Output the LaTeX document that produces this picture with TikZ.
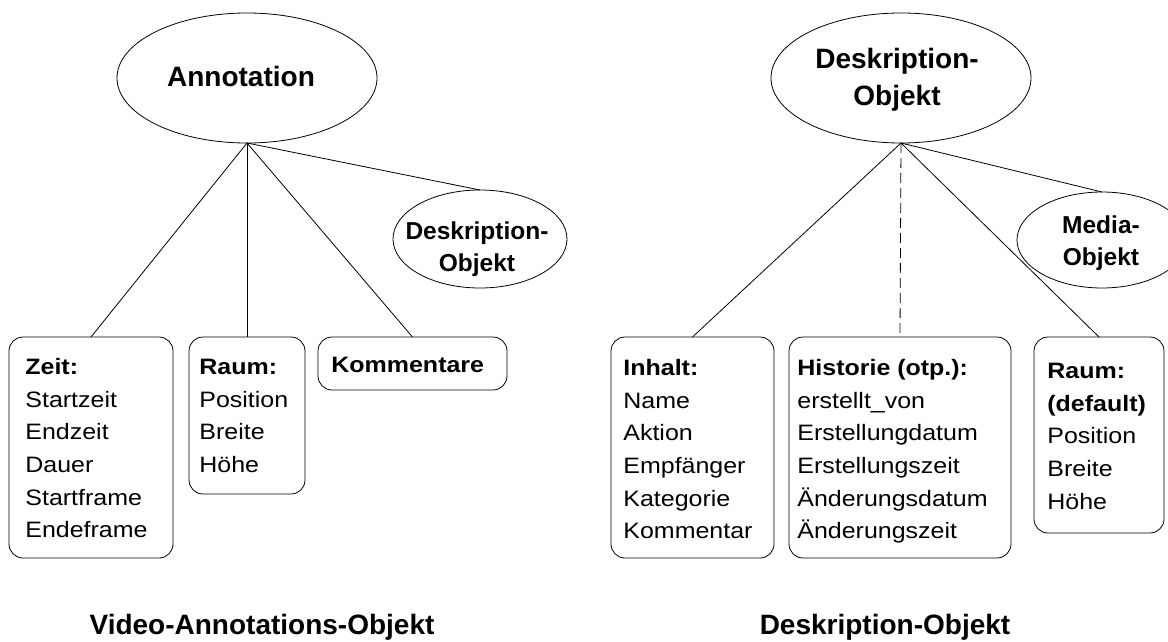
\documentclass[tikz,border=0pt]{standalone}
\usepackage{fontspec}
\setmainfont{Liberation Sans}
\newfontfamily\boxfont[FakeStretch=1.12]{Liberation Sans}
\usetikzlibrary{shapes.geometric}
\newcommand\fstrut[1]{\rule{0pt}{#1}}
\begin{document}
\begin{tikzpicture}[x=1pt,y=-1pt,line width=0.8pt,
  attrbox/.style={draw, rounded corners=14pt, anchor=north west, inner sep=0pt, outer sep=0pt},
  ovalnode/.style={draw, ellipse, inner sep=0pt, outer sep=0pt},
  boxtext/.style={anchor=north west, inner sep=0pt, align=left,
    font=\boxfont\fontsize{22.3}{32.7}\selectfont},
  bigtext/.style={inner sep=0pt, align=center, font=\bfseries\fontsize{28}{37}\selectfont},
  smalltext/.style={inner sep=0pt, align=center, font=\bfseries\fontsize{24.5}{32}\selectfont},
  conn/.style={line width=0.8pt},
  optconn/.style={line width=0.8pt, dash pattern=on 10pt off 5pt}
]
\useasboundingbox (0,0) rectangle (1168,642);

% ---------- left: Video-Annotations-Objekt ----------
\node[ovalnode, minimum width=260pt, minimum height=130pt] (ann) at (247,78) {};
\node[bigtext, anchor=base] (annt) at (241,87) {Annotation};

\node[ovalnode, minimum width=174pt, minimum height=98pt] (desk1) at (480,239) {};
\node[smalltext, anchor=north] (desk1t) at (477,218) {\fstrut{21pt}Deskription-\\Objekt};

\node[attrbox, minimum width=164pt, minimum height=221pt] (zeit) at (9,337) {};
\node[boxtext] (zeitt) at (25,354) {\fstrut{20pt}\textbf{Zeit:}\\Startzeit\\Endzeit\\Dauer\\Startframe\\Endeframe};

\node[attrbox, minimum width=116pt, minimum height=157pt] (rauml) at (189,337) {};
\node[boxtext] (raumlt) at (199,354) {\fstrut{20pt}\textbf{Raum:}\\Position\\Breite\\Höhe};

\node[attrbox, minimum width=189pt, minimum height=53pt] (komm) at (318,337) {};
\node[boxtext] (kommt) at (331,352) {\fstrut{20pt}\textbf{Kommentare}};

\draw[conn] (ann.south) -- (zeit.north);
\draw[conn] (ann.south) -- (rauml.north);
\draw[conn] (ann.south) -- (komm.north);
\draw[conn] (ann.south) -- (desk1.north);

\node[bigtext, anchor=base] (title1) at (262,634) {Video-Annotations-Objekt};

% ---------- right: Deskription-Objekt ----------
\node[ovalnode, minimum width=260pt, minimum height=130pt] (desk) at (901,78) {};
\node[bigtext, anchor=north] (deskt) at (897,46) {\fstrut{22pt}Deskription-\\Objekt};

\node[ovalnode, minimum width=170pt, minimum height=96pt] (media) at (1102,240) {};
\node[smalltext, anchor=north] (mediat) at (1101,212) {\fstrut{21pt}Media-\\Objekt};

\node[attrbox, minimum width=163pt, minimum height=221pt] (inhalt) at (611,337) {};
\node[boxtext] (inhaltt) at (623,355) {\fstrut{20pt}\textbf{Inhalt:}\\Name\\Aktion\\Empfänger\\Kategorie\\Kommentar};

\node[attrbox, minimum width=222pt, minimum height=221pt] (hist) at (789,337) {};
\node[boxtext] (histt) at (797,355) {\fstrut{20pt}\textbf{Historie (otp.):}\\erstellt\_von\\Erstellungdatum\\Erstellungszeit\\Änderungsdatum\\Änderungszeit};

\node[attrbox, minimum width=130pt, minimum height=196pt] (raumr) at (1034,337) {};
\node[boxtext] (raumrt) at (1047,358) {\fstrut{20pt}\textbf{Raum:}\\\textbf{(default)}\\Position\\Breite\\Höhe};

\draw[conn] (desk.south) -- (inhalt.north);
\draw[optconn] (desk.south) -- (hist.north);
\draw[conn] (desk.south) -- (raumr.north);
\draw[conn] (desk.south) -- (media.north);

\node[bigtext, anchor=base] (title2) at (885,634) {Deskription-Objekt};
\end{tikzpicture}
\end{document}
